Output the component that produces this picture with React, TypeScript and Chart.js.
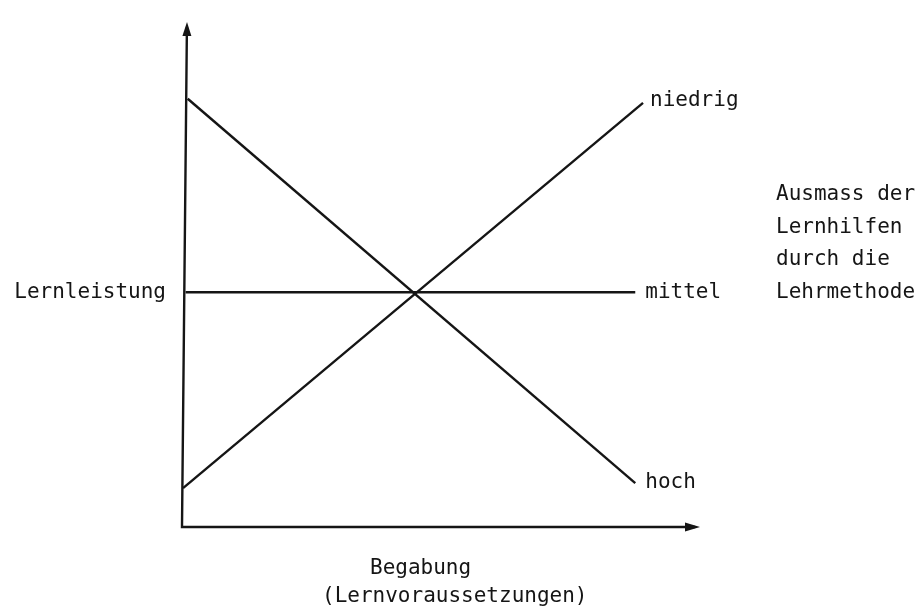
import React, { useEffect, useRef } from "react";
import { Chart, registerables } from "chart.js";

Chart.register(...registerables);

// Series (x = Begabung, y = Lernleistung), values in 0..100 units
const seriesNames = ["niedrig", "mittel", "hoch"];
const niedrigPoints = [
  { x: 0.2, y: 7.7 },
  { x: 89.0, y: 84.0 },
];
const mittelPoints = [
  { x: 0.7, y: 46.5 },
  { x: 87.5, y: 46.5 },
];
const hochPoints = [
  { x: 1.1, y: 84.8 },
  { x: 87.5, y: 8.7 },
];

const yAxisLabel = "Lernleistung";
const xAxisLabelLines = ["Begabung", "(Lernvoraussetzungen)"];
const legendLines = ["Ausmass der", "Lernhilfen", "durch die", "Lehrmethode"];

const FONT = '21px "DejaVu Sans Mono", monospace';
const INK = "#151515";
const AXIS_LEAN = 5; // slight lean of the hand-drawn vertical axis

const annotatePlugin = {
  id: "annotate",
  afterDatasetsDraw(chart: any) {
    const { ctx, chartArea, scales } = chart;
    const { left, right, top, bottom } = chartArea;
    ctx.save();
    // axes
    ctx.strokeStyle = INK;
    ctx.fillStyle = INK;
    ctx.lineWidth = 2.4;
    ctx.lineCap = "square";
    ctx.beginPath();
    ctx.moveTo(left + AXIS_LEAN * 0.98, top + 6);
    ctx.lineTo(left, bottom);
    ctx.lineTo(right - 6, bottom);
    ctx.stroke();
    // arrow heads
    ctx.beginPath();
    ctx.moveTo(left + AXIS_LEAN, top);
    ctx.lineTo(left + AXIS_LEAN - 4.6, top + 14);
    ctx.lineTo(left + AXIS_LEAN + 4.4, top + 14);
    ctx.closePath();
    ctx.fill();
    ctx.beginPath();
    ctx.moveTo(right, bottom);
    ctx.lineTo(right - 15, bottom - 4.5);
    ctx.lineTo(right - 15, bottom + 4.5);
    ctx.closePath();
    ctx.fill();

    ctx.font = FONT;
    ctx.textBaseline = "middle";
    ctx.textAlign = "left";
    // series labels at line ends
    chart.data.datasets.forEach((ds: any, i: number) => {
      const meta = chart.getDatasetMeta(i);
      const last = meta.data[meta.data.length - 1];
      const dy = i === 0 ? -2 : i === 2 ? -1 : 0;
      ctx.fillText(ds.label, last.x + (i === 0 ? 7 : 10), last.y + dy);
    });
    // y-axis label at the "mittel" level
    const midY = scales.y.getPixelForValue(mittelPoints[0].y);
    ctx.textAlign = "right";
    ctx.fillText(yAxisLabel, left - 16, midY);
    // legend title block
    ctx.textAlign = "left";
    const n = legendLines.length;
    legendLines.forEach((t, i) => {
      ctx.fillText(t, right + 76, midY - (n - 1 - i) * 32.5);
    });
    // x-axis title
    ctx.fillText(xAxisLabelLines[0], left + 188, bottom + 42);
    ctx.fillText(xAxisLabelLines[1], left + 140, bottom + 70);
    ctx.restore();
  },
};

export default function App() {
  const ref = useRef<HTMLCanvasElement>(null);
  useEffect(() => {
    document.body.style.margin = "0";
    const lineStyle = {
      borderColor: INK,
      borderWidth: 2.4,
      pointRadius: 0,
      fill: false,
      tension: 0,
    };
    const chart = new Chart(ref.current!, {
      type: "line",
      data: {
        datasets: [
          { label: seriesNames[0], data: niedrigPoints, ...lineStyle },
          { label: seriesNames[1], data: mittelPoints, ...lineStyle },
          { label: seriesNames[2], data: hochPoints, ...lineStyle },
        ],
      },
      options: {
        responsive: false,
        animation: false,
        layout: { padding: { left: 182, top: 22, right: 220, bottom: 83 } },
        plugins: { legend: { display: false }, tooltip: { enabled: false } },
        scales: {
          x: { type: "linear", min: 0, max: 100, display: false },
          y: { type: "linear", min: 0, max: 100, display: false },
        },
      },
      plugins: [annotatePlugin],
    });
    return () => chart.destroy();
  }, []);
  return (
    <div style={{ position: "fixed", left: 0, top: 0, width: 920, height: 610, background: "#fff" }}>
      <canvas ref={ref} width={920} height={610} />
    </div>
  );
}
